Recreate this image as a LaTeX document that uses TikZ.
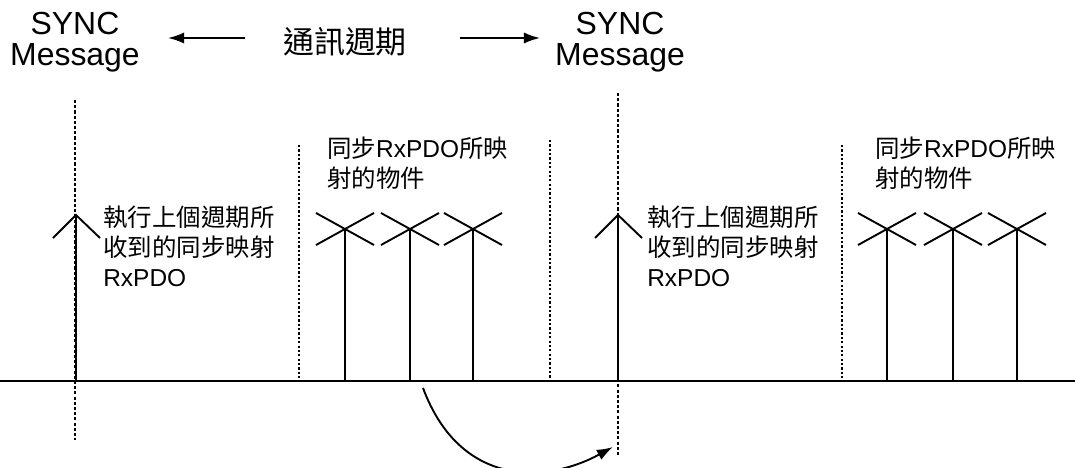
\documentclass[tikz,border=0pt]{standalone}
\usepackage{fontspec}
\setmainfont{Liberation Sans}
\newfontfamily\cjk{Noto Sans CJK TC}
\usetikzlibrary{positioning,calc,arrows.meta}
\tikzset{
  syncln/.style={line width=1.2pt, dash pattern=on 2.2pt off 1.5pt},
  slotln/.style={line width=1.2pt, dash pattern=on 1.6pt off 1.5pt},
  pin/.style={line width=1.35pt},
  tip/.style={-{Latex[length=11.5pt, width=8pt]}},
  lbl/.style={font=\cjk\fontsize{17.4}{21.3}\selectfont, align=left, inner sep=0pt, anchor=north west},
  hdr/.style={font=\fontsize{22.7}{22}\selectfont, align=center, inner sep=0pt, anchor=north}}

\begin{document}
\begin{tikzpicture}[x=0.025cm, y=-0.025cm]
\useasboundingbox (0,0) rectangle (1075,467);
% header
\node[hdr] (sy1) at (75,12) {SYNC\\Message};
\node[hdr] (sy2) at (620,12) {SYNC\\Message};
\node[font=\cjk\fontsize{22}{26}\selectfont, inner sep=0pt] (cyc) at (345,42) {通訊週期};
\coordinate (al) at (168,38);
\coordinate (ar) at (540,38);
\draw[pin, tip] ($(cyc.west)+(-38,-4)$) -- (al);
\draw[pin, tip] ($(cyc.east)+(53,-4)$) -- (ar);
% time line
\coordinate (l0) at (0,381);
\coordinate (l1) at (1075,381);
\draw[line width=1.6pt] (l0) -- (l1);
% sync marks
\coordinate (s1t) at (75,100);
\coordinate (s1b) at (75,440);
\coordinate (s2t) at (618,93);
\coordinate (s2b) at (618,457);
\draw[syncln] (s1t) -- (s1b);
\draw[syncln] (s2t) -- (s2b);
\foreach \x/\y [count=\i] in {299/145, 550/140, 842/145} {
  \coordinate (w\i) at (\x,\y);
  \draw[slotln] (w\i) -- (w\i |- l0);}
% received objects
\foreach \x [count=\i] in {76,618} {
  \coordinate (u\i) at (\x,215);
  \draw[pin] (u\i) -- (u\i |- l0);
  \draw[pin] ($(u\i)+(-23,23)$) -- (u\i) -- ($(u\i)+(24,23)$);}
\node[lbl] (ex1) at (103,206) {執行上個週期所\\收到的同步映射\\{\rmfamily RxPDO}};
\node[lbl] (ex2) at (647,206) {執行上個週期所\\收到的同步映射\\{\rmfamily RxPDO}};
% mapped objects
\foreach \x [count=\i] in {345,410,473,887,953,1017} {
  \coordinate (o\i) at (\x,229);
  \draw[pin] (o\i) -- (o\i |- l0);
  \draw[pin] ($(o\i)+(-29,-16)$) -- ($(o\i)+(29,16)$);
  \draw[pin] ($(o\i)+(-29,16)$) -- ($(o\i)+(29,-16)$);}
\node[lbl] (mp1) at (327,137) {同步{\rmfamily RxPDO}所映\\射的物件};
\node[lbl] (mp2) at (875,137) {同步{\rmfamily RxPDO}所映\\射的物件};
% hand-over
\coordinate (c0) at (423,388);
\coordinate (c1) at (613,447);
\draw[pin, tip] (c0) .. controls (460,487) and (545,484) .. (c1);
\end{tikzpicture}
\end{document}
